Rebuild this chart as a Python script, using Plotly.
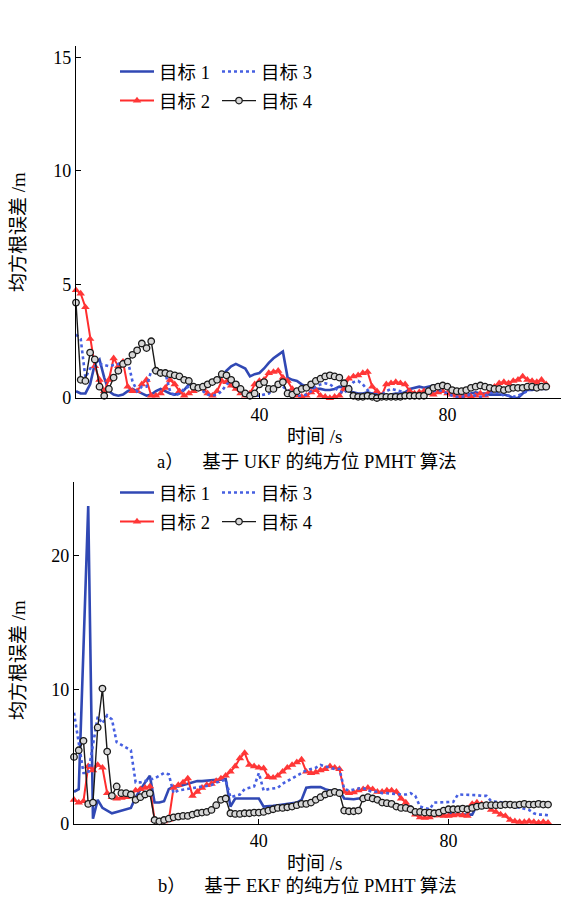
import plotly.graph_objects as go

# ---------------- data ----------------
t = list(range(1, 102))

ukf_t1 = [0.3, 0.2, 0.2, 0.6, 1.5, 1.7, 0.9, 0.3, 0.15, 0.1,
          0.15, 0.3, 0.4, 0.3, 0.2, 0.1, 0.15, 0.3, 0.4, 0.3,
          0.2, 0.15, 0.2, 0.35, 0.6, 0.55, 0.5, 0.55, 0.6, 0.65,
          0.8, 0.95, 1.2, 1.4, 1.5, 1.4, 1.3, 0.95, 1.05, 1.1,
          1.3, 1.55, 1.75, 1.9, 2.05, 0.9, 0.8, 0.75, 0.6, 0.5,
          0.45, 0.4, 0.4, 0.35, 0.35, 0.4, 0.5, 0.45, 0.3, 0.25,
          0.2, 0.2, 0.25, 0.2, 0.15, 0.15, 0.1, 0.15, 0.2, 0.2,
          0.25, 0.4, 0.45, 0.5, 0.45, 0.5, 0.55, 0.55, 0.5, 0.5,
          0.3, 0.2, 0.15, 0.1, 0.2, 0.25, 0.2, 0.2, 0.15, 0.15,
          0.15, 0.15, 0.1, 0.0, 0.0, 0.2, 0.35, 0.35, 0.4, 0.4, 0.4]
ukf_t2 = [4.75, 4.6, 4.0, 2.6, 1.4, 0.8, 0.3, 0.8, 1.75, 1.4,
          1.6, 0.5, 0.3, 0.3, 0.6, 0.8, 0.1, 0.1, 0.2, 0.45,
          0.8, 0.6, 0.3, 0.1, 0.2, 0.3, 0.4, 0.45, 0.2, 0.1,
          0.3, 0.75, 0.7, 0.55, 0.4, 0.2, 0.1, 0.2, 0.6, 0.75,
          0.8, 1.1, 1.15, 1.2, 0.9, 0.75, 0.4, 0.1, 0.05, 0.1,
          0.25, 0.35, 0.1, 0.05, 0.0, 0.05, 0.1, 0.4, 0.85, 0.95,
          1.0, 1.1, 1.15, 0.5, 0.3, 0.1, 0.6, 0.65, 0.7, 0.65,
          0.6, 0.3, 0.2, 0.25, 0.3, 0.2, 0.15, 0.25, 0.3, 0.2,
          0.15, 0.1, 0.05, 0.1, 0.05, 0.1, 0.2, 0.1, 0.3, 0.5,
          0.65, 0.7, 0.65, 0.75, 0.8, 0.95, 0.8, 0.75, 0.7, 0.8, 0.6]
ukf_t3 = [2.8, 2.6, 0.9, 1.3, 1.4, 1.5, 1.45, 1.4, 1.45, 1.5,
          1.6, 1.65, 0.75, 0.3, 0.5, 0.5, 1.2, 1.25, 1.2, 1.1,
          0.3, 0.1, 0.2, 0.4, 0.5, 0.55, 0.4, 0.3, 0.15, 0.1,
          0.15, 0.3, 0.6, 0.75, 0.7, 0.5, 0.3, 0.15, 0.1, 0.1,
          0.15, 0.2, 0.4, 0.55, 0.5, 0.35, 0.2, 0.1, 0.1, 0.15,
          0.3, 0.5, 0.6, 0.65, 0.6, 0.45, 0.3, 0.2, 0.45, 0.7,
          0.75, 0.6, 0.35, 0.2, 0.1, 0.15, 0.3, 0.4, 0.35, 0.3,
          0.2, 0.15, 0.1, 0.1, 0.15, 0.2, 0.3, 0.35, 0.3, 0.2,
          0.1, 0.05, 0.05, 0.1, 0.15, 0.1, 0.05, 0.1, 0.2, 0.3,
          0.2, 0.1, 0.1, 0.05, 0.1, 0.2, 0.3, 0.45, 0.5, 0.45, 0.4]
ukf_t4 = [4.2, 0.8, 0.75, 2.0, 1.7, 0.5, 0.1, 0.4, 0.9, 1.2,
          1.5, 1.6, 1.9, 2.1, 2.4, 2.2, 2.5, 1.2, 1.1, 1.1,
          1.05, 1.0, 0.95, 0.8, 0.75, 0.5, 0.45, 0.5, 0.6, 0.7,
          0.8, 1.05, 1.0, 0.8, 0.6, 0.4, 0.2, 0.1, 0.2, 0.6,
          0.7, 0.4, 0.4, 0.6, 0.7, 0.2, 0.15, 0.3, 0.4, 0.45,
          0.6, 0.75, 0.85, 0.95, 1.0, 0.95, 0.9, 0.65, 0.4, 0.1,
          0.05, 0.05, 0.1, 0.05, 0.0, 0.05, 0.05, 0.05, 0.05, 0.05,
          0.1, 0.1, 0.1, 0.1, 0.1, 0.3, 0.45, 0.5, 0.55, 0.5,
          0.35, 0.3, 0.3, 0.35, 0.45, 0.5, 0.55, 0.5, 0.45, 0.4,
          0.4, 0.35, 0.4, 0.45, 0.45, 0.45, 0.5, 0.5, 0.45, 0.5, 0.5]

ekf_t1 = [2.4, 2.6, 13.1, 23.7, 0.4, 1.8, 1.2, 1.0, 0.8, 0.9,
          1.0, 1.1, 1.2, 2.0, 2.6, 3.1, 3.6, 1.6, 1.6, 1.7,
          2.6, 2.8, 2.8, 2.9, 3.0, 3.1, 3.2, 3.2, 3.25, 3.3,
          3.3, 3.3, 3.35, 1.3, 1.9, 1.9, 1.9, 1.9, 1.9, 1.9,
          1.3, 1.3, 1.35, 1.4, 1.45, 1.5, 1.55, 1.6, 1.8, 2.7,
          2.75, 2.75, 2.75, 2.6, 2.5, 2.5, 2.5, 1.9, 1.85, 1.85,
          1.9, 1.9, 1.9, 1.9, 1.7, 1.6, 1.6, 1.6, 1.3, 1.3,
          1.3, 1.3, 0.9, 0.9, 0.9, 0.9, 0.9, 0.9, 0.9, 0.9,
          0.7, 0.7, 0.7, 0.7, 0.7, 1.4, 1.4, 1.4, 1.45, 1.45,
          1.45, 1.5, 1.5, 1.5, 1.5, 1.5, 1.5, 1.5, 1.55, 1.55, 1.55]
ekf_t2 = [1.8, 1.6, 1.7, 4.3, 4.0, 4.4, 4.2, 2.3, 2.0, 1.9,
          1.95, 2.0, 2.2, 2.5, 2.6, 2.7, 2.8, 0.3, 0.2, 0.2,
          0.3, 2.7, 2.9, 3.1, 3.4, 2.1, 2.4, 2.7, 2.9, 3.0,
          3.2, 3.4, 3.6, 3.9, 4.3, 4.9, 5.3, 4.4, 4.3, 4.2,
          4.15, 3.5, 3.45, 3.6, 3.9, 4.2, 4.4, 4.6, 4.8, 3.9,
          3.8, 3.85, 4.0, 4.1, 4.3, 4.2, 4.1, 2.4, 2.3, 2.35,
          2.5, 2.6, 2.7, 2.6, 2.4, 2.4, 2.5, 2.5, 2.4, 1.9,
          1.6, 1.1, 0.7, 0.5, 0.45, 0.5, 0.65, 0.65, 0.6, 0.6,
          0.65, 0.7, 0.65, 0.6, 1.5, 1.6, 1.5, 1.4, 1.05, 0.9,
          0.7, 0.6, 0.3, 0.2, 0.15, 0.15, 0.2, 0.15, 0.1, 0.15, 0.1]
ekf_t3 = [8.3, 6.0, 3.8, 3.8, 6.0, 8.0, 7.5, 8.1, 7.8, 6.1,
          5.9, 5.7, 5.5, 3.1, 3.1, 3.2, 3.3, 3.4, 3.6, 3.8,
          3.7, 2.3, 2.5, 2.55, 2.6, 2.65, 2.7, 2.75, 2.8, 2.9,
          3.1, 3.2, 3.3, 2.0, 2.1, 2.2, 2.6, 2.7, 2.8, 3.8,
          2.5, 2.6, 2.65, 2.7, 3.0, 3.2, 3.4, 3.6, 3.8, 4.0,
          4.1, 4.2, 4.4, 4.3, 4.2, 4.1, 4.1, 2.6, 2.5, 2.55,
          2.6, 2.7, 2.5, 2.4, 2.4, 2.3, 2.3, 2.25, 2.2, 2.2,
          2.2, 2.3, 2.1, 1.3, 1.2, 1.1, 1.6, 1.6, 1.6, 1.6,
          1.65, 2.2, 2.2, 2.2, 2.2, 2.15, 2.1, 2.1, 1.7, 1.65,
          1.6, 1.6, 1.55, 1.3, 1.2, 1.1, 1.05, 0.8, 0.7, 0.7, 0.65]
ekf_t4 = [5.0, 5.5, 6.2, 1.5, 1.6, 7.2, 10.1, 5.4, 2.1, 2.8,
          2.3, 2.3, 2.2, 1.8, 2.0, 2.2, 2.3, 0.3, 0.2, 0.3,
          0.4, 0.5, 0.55, 0.6, 0.6, 0.7, 0.8, 0.85, 0.9, 1.05,
          1.4, 1.8, 1.9, 0.8, 0.75, 0.75, 0.8, 0.8, 0.85, 0.85,
          0.9, 1.0, 1.1, 1.2, 1.2, 1.25, 1.3, 1.4, 1.5, 1.5,
          1.6, 1.8, 2.0, 2.2, 2.3, 2.4, 2.3, 1.0, 0.95, 0.95,
          1.0, 1.9, 2.0, 1.9, 1.8, 1.6, 1.55, 1.5, 1.3, 1.2,
          1.2, 1.1, 0.9, 0.9, 0.85, 0.85, 0.8, 0.85, 1.0, 1.1,
          1.1, 1.1, 1.15, 1.1, 1.2, 1.3, 1.35, 1.4, 1.4, 1.4,
          1.4, 1.45, 1.45, 1.4, 1.45, 1.5, 1.45, 1.45, 1.5, 1.45, 1.45]

names = ["目标 1", "目标 2", "目标 3", "目标 4"]
x_ticks = [40, 80]
y_ticks_ukf = [0, 5, 10, 15]
y_ticks_ekf = [0, 10, 20]

# ---------------- styles ----------------
FONT = "Times New Roman, Liberation Serif, Noto Sans CJK SC, serif"
styles = [
    dict(mode="lines", line=dict(color="rgb(48,72,180)", width=2.6)),
    dict(mode="lines+markers", line=dict(color="rgb(255,45,45)", width=2),
         marker=dict(symbol="triangle-up", size=7.5, color="rgb(255,55,55)",
                     line=dict(width=0))),
    dict(mode="lines", line=dict(color="rgb(70,95,225)", width=2.6, dash="dot")),
    dict(mode="lines+markers", line=dict(color="rgb(25,25,25)", width=1.4),
         marker=dict(symbol="circle", size=6.5, color="rgb(215,215,215)",
                     line=dict(width=1.3, color="rgb(25,25,25)"))),
]

fig = go.Figure()
panels = [
    ([ukf_t1, ukf_t2, ukf_t3, ukf_t4], "x", "y", ["legend", "legend2"], "a"),
    ([ekf_t1, ekf_t2, ekf_t3, ekf_t4], "x2", "y2", ["legend3", "legend4"], "b"),
]
for series, xa, ya, legs, tag in panels:
    for i, vals in enumerate(series):
        fig.add_trace(go.Scatter(
            x=t, y=vals, name=names[i], xaxis=xa, yaxis=ya,
            legend=legs[0] if i in (0, 1) else legs[1],
            legendgroup=f"{tag}{i}",
            cliponaxis=False, **styles[i]))

# the page body has an 8px margin, so the figure is drawn 8px in from the corner
OFF = 8
W, H = 569 - OFF, 902 - OFF
def px(x):
    return (x - OFF) / W
def py(y):
    return 1 - (y - OFF) / H

axis_common = dict(showline=True, linecolor="black", linewidth=1.2,
                   ticks="inside", ticklen=5, tickcolor="black", tickwidth=1,
                   showgrid=False, zeroline=False, mirror=False, automargin=False,
                   tickfont=dict(family=FONT, size=18, color="black"))

fig.update_layout(
    width=W, height=H,
    margin=dict(l=0, r=0, t=0, b=0, pad=0, autoexpand=False),
    plot_bgcolor="white", paper_bgcolor="white",
    font=dict(family=FONT, size=17, color="black"),
    xaxis=dict(domain=[px(76), px(565)], range=[1, 105], anchor="y",
               tickvals=x_ticks, **axis_common),
    yaxis=dict(domain=[py(398), py(46)], range=[0, 15.5], anchor="x",
               tickvals=y_ticks_ukf, **axis_common),
    xaxis2=dict(domain=[px(74), px(567)], range=[1, 105], anchor="y2",
                tickvals=x_ticks, **axis_common),
    yaxis2=dict(domain=[py(824), py(482)], range=[0, 25.5], anchor="x2",
                tickvals=y_ticks_ekf, **axis_common),
)

leg_common = dict(orientation="v", xanchor="left", yanchor="top",
                  bgcolor="rgba(0,0,0,0)", borderwidth=0, itemwidth=34,
                  font=dict(family=FONT, size=18.5, color="black"),
                  tracegroupgap=2)
fig.update_layout(
    legend=dict(x=px(115), y=py(53), **leg_common),
    legend2=dict(x=px(217), y=py(53), **leg_common),
    legend3=dict(x=px(115), y=py(474), **leg_common),
    legend4=dict(x=px(217), y=py(474), **leg_common),
)

annots = [
    dict(text="均方根误差 /m", x=px(18), y=py(232), textangle=-90, size=19),
    dict(text="时间 /s", x=px(314), y=py(437), size=19),
    dict(text="a）    基于 UKF 的纯方位 PMHT 算法", x=px(307), y=py(462), size=18.5),
    dict(text="均方根误差 /m", x=px(18), y=py(660), textangle=-90, size=19),
    dict(text="时间 /s", x=px(314), y=py(863), size=19),
    dict(text="b）    基于 EKF 的纯方位 PMHT 算法", x=px(307), y=py(886), size=18.5),
]
for a in annots:
    fig.add_annotation(text=a["text"], x=a["x"], y=a["y"], xref="paper", yref="paper",
                       xanchor="center", yanchor="middle", showarrow=False,
                       textangle=a.get("textangle", 0),
                       font=dict(family=FONT, size=a.get("size", 17), color="black"))

fig.write_html("out.html")
